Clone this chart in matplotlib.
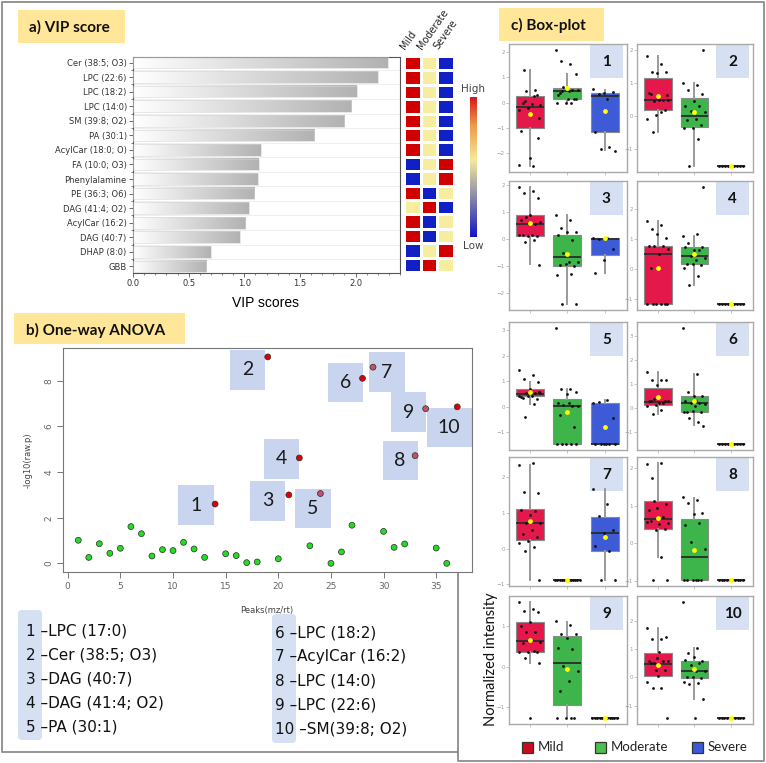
import numpy as np
import matplotlib
matplotlib.use('Agg')
import matplotlib.pyplot as plt
from matplotlib.patches import Rectangle, FancyBboxPatch
from matplotlib.colors import LinearSegmentedColormap, ListedColormap
from matplotlib.ticker import MultipleLocator

W, H = 766, 763

# ---------------- a) VIP score ----------------
vip_names = ['Cer (38:5; O3)', 'LPC (22:6)', 'LPC (18:2)', 'LPC (14:0)', 'SM (39:8; O2)',
             'PA (30:1)', 'AcylCar (18:0; O)', 'FA (10:0; O3)', 'Phenylalamine', 'PE (36:3; O6)',
             'DAG (41:4; O2)', 'AcylCar (16:2)', 'DAG (40:7)', 'DHAP (8:0)', 'GBB']
vip_scores = [2.29, 2.20, 2.01, 1.96, 1.90, 1.63, 1.15, 1.13, 1.12, 1.09, 1.04, 1.01, 0.96, 0.70, 0.66]
groups = ['Mild', 'Moderate', 'Severe']
# 0 = low, 1 = middle, 2 = high
vip_heat = [[2, 1, 0], [2, 1, 0], [2, 1, 0], [2, 1, 0], [2, 1, 0], [2, 1, 0], [2, 1, 0],
            [0, 1, 2], [0, 1, 2], [2, 0, 1], [1, 2, 0], [2, 0, 1], [2, 0, 1], [0, 1, 2], [0, 2, 1]]

# ---------------- b) One-way ANOVA ----------------
peaks = list(range(1, 38))
logp = [1.01, 0.26, 0.86, 0.44, 0.66, 1.61, 1.30, 0.32, 0.60, 0.56, 0.92, 0.63, 0.26, 2.60,
        0.42, 0.34, 0.03, 0.06, 9.05, 0.20, 3.00, 4.62, 0.77, 3.06, 0.00, 0.50, 1.67, 8.11,
        8.60, 1.40, 0.70, 0.85, 4.72, 6.78, 0.67, 0.00, 6.86]
peak_class = [0] * 13 + [1, 0, 0, 0, 0, 1, 0, 1, 1, 0, 2, 0, 0, 0, 1, 2, 0, 0, 0, 2, 2, 0, 0, 1]
label_peaks = [14, 19, 21, 22, 24, 28, 29, 33, 34, 37]
label_names = ['LPC (17:0)', 'Cer (38:5; O3)', 'DAG (40:7)', 'DAG (41:4; O2)', 'PA (30:1)',
               'LPC (18:2)', 'AcylCar (16:2)', 'LPC (14:0)', 'LPC (22:6)', 'SM(39:8; O2)']
# where each number box sits relative to its point (px right, px down)
label_offsets = [(-19, 1), (-20, 13), (-21.5, 6), (-17.5, 1), (-7.5, 15), (-17, 4),
                 (14, 5), (-15, 5), (-17, 3.5), (-8, 20.5)]

# ---------------- c) Box-plots ----------------
# box stats per panel: (whisker low, q1, median, q3, whisker high, mean)
mild_box = [(-2.50, -1.00, -0.16, 0.24, 1.29, -0.46), (-0.47, 0.19, 0.48, 1.16, 1.83, 0.62),
            (-0.94, 0.10, 0.54, 0.87, 1.92, 0.58), (-1.17, -1.17, 0.48, 0.77, 1.60, 0.04),
            (0.09, 0.42, 0.52, 0.68, 0.97, 0.57), (-0.26, 0.11, 0.26, 0.81, 1.47, 0.44),
            (-0.88, 0.24, 0.71, 1.10, 2.34, 0.78), (-0.36, 0.38, 0.64, 1.11, 2.14, 0.67),
            (0.08, 0.36, 0.64, 1.10, 1.61, 0.67), (0.04, 0.04, 0.48, 0.86, 1.73, 0.43)]
mod_box = [(-0.03, 0.14, 0.46, 0.57, 1.12, 0.58), (-1.51, -0.32, 0.01, 0.56, 0.99, 0.13),
           (-2.41, -0.99, -0.68, 0.16, 0.89, -0.55), (-0.54, 0.16, 0.43, 0.71, 1.10, 0.50),
           (-1.47, -1.47, 0.03, 0.32, 0.70, -0.21), (-0.72, -0.18, 0.18, 0.47, 1.40, 0.28),
           (-0.88, -0.88, -0.88, -0.88, -0.88, -0.88), (-0.99, -0.99, -0.37, 0.65, 1.21, -0.18),
           (-1.26, -0.95, 0.10, 0.76, 1.12, -0.06), (-0.75, -0.01, 0.23, 0.56, 1.03, 0.28)]
sev_box = [(-1.87, -1.15, 0.24, 0.37, 0.50, -0.32), (-1.52, -1.52, -1.52, -1.52, -1.52, -1.52),
           (-1.25, -0.58, -0.01, 0.04, 0.04, 0.03), (-1.17, -1.17, -1.17, -1.17, -1.17, -1.17),
           (-1.47, -1.47, -1.47, 0.13, 0.26, -0.81), (-1.51, -1.51, -1.51, -1.51, -1.51, -1.51),
           (-0.88, -0.07, 0.44, 0.89, 1.67, 0.33), (-0.99, -0.99, -0.99, -0.99, -0.99, -0.99),
           (-1.28, -1.28, -1.28, -1.28, -1.28, -1.28), (-1.44, -1.44, -1.44, -1.44, -1.44, -1.44)]

mild_pts = [
    [-2.47, -2.51, 1.29, -1.41, -2.18, -1.12, 0.50, 0.46, -0.10, -0.04, 0.00, 0.30, -0.22, -0.29, 0.24, 0.08, -0.59, -0.45],
    [1.83, 1.58, 1.33, 1.33, 1.30, 0.70, 0.48, 0.45, 0.48, 0.48, 0.68, 0.17, 0.03, -0.09, 0.12, -0.47, 0.63],
    [1.92, 1.75, 1.69, 1.52, 0.87, 0.70, 0.54, 0.80, 0.62, 0.16, 0.14, 0.10, 0.11, 0.14, -0.03, -0.11, -0.97],
    [1.60, 1.47, 1.33, 1.03, 1.14, 0.75, 0.77, 0.77, 0.66, 0.50, 0.02, -1.17, -1.17, -1.17, -1.17, -1.17, -1.17],
    [1.43, 1.26, 1.08, 0.99, 0.68, 0.39, 0.55, 0.55, 0.55, 0.44, 0.35, 0.31, 0.42, 0.42, 0.09, -0.39, 0.57],
    [1.50, 1.17, 1.17, 1.17, 0.94, 0.29, 0.20, 0.36, 0.29, 0.20, 0.29, 0.29, 0.11, 0.08, -0.08, -0.26],
    [2.34, 2.40, 1.58, 1.56, 0.95, 1.08, 1.06, 0.71, 0.71, 0.52, 0.40, 0.33, 0.21, 0.17, 0.04, -0.06, -0.88],
    [2.10, 2.14, 1.73, 1.05, 0.94, 0.87, 0.69, 1.12, 0.54, 0.51, 0.60, 0.37, 0.34, 0.56, -0.37, -0.99, -0.99],
    [1.61, 1.42, 1.39, 1.36, 1.12, 1.02, 0.85, 0.87, 0.62, 0.66, 0.58, 0.36, 0.36, 0.36, 0.38, 0.22, 0.10, -1.28],
    [1.73, 1.36, 1.36, 1.42, 0.67, 0.59, 0.59, 0.49, 0.59, 0.90, 0.49, 0.25, 0.25, -0.18, -0.36, -0.36, -1.44, 0.06]]
mod_pts = [
    [2.08, 1.51, 1.62, 1.12, 0.54, 0.28, 0.50, 0.63, 0.48, 0.44, 0.37, 0.13, -0.03, -0.03, -0.03, 0.46, 0.15, 0.14],
    [0.99, 0.94, 0.79, 0.68, 0.45, 0.32, 0.30, 0.15, 0.12, -0.08, -0.13, -0.28, -0.36, -0.36, -0.70, -1.51, 2.01],
    [0.89, 0.70, 0.39, 0.24, 0.26, 0.14, -0.05, -0.53, -0.84, -0.84, -0.97, -0.99, -0.93, -1.35, -1.28, -2.41, -2.41],
    [1.10, 1.14, 0.86, 0.72, 0.61, 0.71, 0.61, 0.43, 0.36, 0.28, 0.17, 0.13, 0.16, 0.02, -0.23, -0.54, 2.72],
    [3.10, 0.70, 0.70, 0.57, 0.52, 0.13, 0.03, 0.05, 0.03, 0.16, -0.31, -0.78, -1.47, -1.47, -1.47, -1.47, -1.47],
    [3.32, 1.40, 0.67, 0.50, 0.47, 0.29, 0.22, 0.18, 0.15, 0.29, -0.19, -0.19, -0.14, -0.19, -0.61, -0.42, -0.75, 0.08],
    [-0.88] * 12,
    [1.23, 1.14, 1.08, 0.80, 0.77, 0.49, 0.54, 0.03, -0.16, -0.99, -0.99, -0.99, -0.99, -0.99, -0.99],
    [1.13, 1.03, 0.82, 0.80, 0.70, 0.47, 0.43, 0.02, -0.10, -0.36, -0.60, -1.28, -1.28, -1.28, -1.28],
    [2.66, 1.03, 0.87, 0.56, 0.70, 0.60, 0.49, 0.43, 0.23, 0.23, 0.00, -0.02, 0.00, -0.15, -0.20, -0.24, -0.75, -1.44]]
sev_pts = [
    [0.53, 0.13, 0.34, 0.41, 0.37, -1.15, -1.74, -1.83, -1.91],
    [-1.52] * 9,
    [0.04, 0.04, 0.01, -0.39, -0.79, -1.25],
    [-1.17] * 9,
    [0.13, 0.26, 0.19, -0.43, -1.47, -1.47, -1.47, -1.47, -1.47, -1.47],
    [-1.51] * 9,
    [1.67, 1.26, 0.90, 0.52, 0.44, 0.07, -0.06, -0.88, -0.88],
    [-0.99] * 10,
    [-1.28] * 11,
    [-1.44] * 10]
group_colors = ['#E5184B', '#3DB54A', '#3D5BD6']

# ================= figure =================
fig = plt.figure(figsize=(W / 100, H / 100), dpi=100)


def px_rect(x0, y0, x1, y1):
    return [x0 / W, 1 - y1 / H, (x1 - x0) / W, (y1 - y0) / H]


deco = fig.add_axes([0, 0, 1, 1])
deco.set_xlim(0, W)
deco.set_ylim(H, 0)
deco.axis('off')

# panel frames
deco.plot([458, 2, 2, 764, 764, 458, 458], [752, 752, 2, 2, 761, 761, 572], color='#8c8c8c', lw=1.3)

title_kw = dict(fontsize=11, fontweight='bold', family='Lato', va='center', color='#111111')
deco.add_patch(Rectangle((18, 10), 107, 33, fc='#FFE699', ec='none'))
deco.text(29, 27, 'a) VIP score', **title_kw)
deco.add_patch(Rectangle((14, 313), 171, 31, fc='#FFE699', ec='none'))
deco.text(26, 330, 'b) One-way ANOVA', **title_kw)
deco.add_patch(Rectangle((499, 8), 105, 33, fc='#FFE699', ec='none'))
deco.text(511, 25, 'c) Box-plot', **title_kw)

# ---- a) VIP bars
ax_a = fig.add_axes(px_rect(133, 57, 400, 273))
n = len(vip_names)
ypos = np.arange(n)[::-1]
bar_cmap = LinearSegmentedColormap.from_list('bar', ['#FFFFFF', '#B2B2B2'])
grad = np.linspace(0, 1, 200)[None, :]
for yv, v in zip(ypos, vip_scores):
    ax_a.imshow(grad, extent=[0, v, yv - 0.4, yv + 0.4], cmap=bar_cmap, aspect='auto',
                interpolation='bilinear', zorder=2)
ax_a.barh(ypos, vip_scores, height=0.8, fc='none', ec='#d4d4d4', lw=0.4, zorder=3)
ax_a.set_xlim(0, 2.4)
ax_a.set_ylim(-0.45, n - 1 + 0.38)
ax_a.set_yticks(ypos)
ax_a.set_yticklabels(vip_names, fontsize=6, color='#333333')
ax_a.set_yticks(np.arange(n - 1) + 0.5, minor=True)
ax_a.set_xticks([0, 0.5, 1.0, 1.5, 2.0])
ax_a.set_xticklabels(['0.0', '0.5', '1.0', '1.5', '2.0'], fontsize=6, color='#333333')
ax_a.xaxis.set_minor_locator(MultipleLocator(0.1))
ax_a.grid(which='minor', axis='y', color='#ececec', lw=0.6, zorder=0)
ax_a.tick_params(length=3, width=0.6, color='#555555', pad=1.5)
ax_a.tick_params(which='minor', length=1.5, width=0.5, color='#555555')
for s in ax_a.spines.values():
    s.set_color('#555555')
    s.set_linewidth(0.8)
deco.text(266, 303, 'VIP scores', ha='center', va='center', fontsize=10, family='Liberation Sans')

# ---- heatmap
ax_h = fig.add_axes(px_rect(404, 56, 454, 272))
heat_cmap = ListedColormap(['#1020C4', '#F6EE9E', '#D00000'])
ax_h.pcolormesh(np.arange(4), np.arange(n + 1), np.array(vip_heat), cmap=heat_cmap,
                vmin=-0.5, vmax=2.5, edgecolors='white', linewidth=1.8)
ax_h.set_xlim(0, 3)
ax_h.set_ylim(n, 0)
ax_h.axis('off')
for j, g in enumerate(groups):
    ax_h.text(j + 0.15, -0.35, g, rotation=55, rotation_mode='anchor', ha='left', va='bottom',
              fontsize=7, color='#222222')

ax_c = fig.add_axes(px_rect(470, 97, 477, 237))
cb_cmap = LinearSegmentedColormap.from_list('cb', [(0, '#1414C8'), (0.3, '#9090A8'), (0.55, '#F3EB9A'),
                                                   (0.8, '#EE9A48'), (1, '#D41A1A')])
ax_c.imshow(np.linspace(0, 1, 200)[:, None], cmap=cb_cmap, aspect='auto', origin='lower')
ax_c.axis('off')
deco.text(473.5, 89, 'High', ha='center', va='center', fontsize=7.5, color='#444444')
deco.text(473.5, 246, 'Low', ha='center', va='center', fontsize=7.5, color='#444444')

# ---- b) ANOVA
ax_b = fig.add_axes(px_rect(63, 348, 472, 572))
cls_colors = ['#22DD22', '#E00000', '#C4506A']
ax_b.scatter(peaks, logp, s=18, c=[cls_colors[c] for c in peak_class], edgecolors='#2a2a2a',
             linewidths=0.5, zorder=4)
ax_b.set_xlim(-0.45, 38.4)
ax_b.set_ylim(-0.38, 9.44)
ax_b.set_xticks(range(0, 36, 5))
ax_b.set_yticks(range(0, 9, 2))
ax_b.tick_params(labelsize=6.5, labelcolor='#666666', color='#777777', length=4, width=0.7, pad=3)
for lab in ax_b.get_yticklabels():
    lab.set_rotation(90)
    lab.set_va('center')
for s in ax_b.spines.values():
    s.set_color('#777777')
    s.set_linewidth(0.8)
deco.text(28, 460, '-log10(raw.p)', rotation=90, ha='center', va='center', fontsize=6, color='#444444')
deco.text(267, 610, 'Peaks(mz/rt)', ha='center', va='center', fontsize=6, color='#444444')

for num, (pk, (dx, dy)) in enumerate(zip(label_peaks, label_offsets), start=1):
    val = logp[peaks.index(pk)]
    cx, cy = ax_b.transData.transform((pk, val))
    cx, cy = cx + dx, cy - dy
    bw = 45 if num >= 10 else 35.3
    (x0, y0), (x1, y1) = ax_b.transData.inverted().transform([(cx - bw / 2, cy - 19.7),
                                                              (cx + bw / 2, cy + 19.7)])
    ax_b.add_patch(Rectangle((x0, y0), x1 - x0, y1 - y0, fc='#C9D5EE', ec='none', zorder=2,
                             clip_on=False))
    tx, ty = ax_b.transData.inverted().transform((cx, cy))
    ax_b.text(tx, ty, str(num), ha='center', va='center', fontsize=14, family='Lato',
              color='#1a1a1a', zorder=3)

# legend list of labelled peaks
deco.add_patch(FancyBboxPatch((18, 610), 24, 130, boxstyle='round,pad=0,rounding_size=4',
                              fc='#D6E0F3', ec='none'))
deco.add_patch(FancyBboxPatch((272, 614), 24, 129, boxstyle='round,pad=0,rounding_size=4',
                              fc='#D6E0F3', ec='none'))
for i, name in enumerate(label_names):
    col, row = divmod(i, 5)
    x = 26 if col == 0 else 275
    y = 631 + row * 24 + col * 2
    deco.text(x, y, f'{i + 1} \u2013{name}', ha='left', va='center', fontsize=11,
              family='DejaVu Sans', color='#111111')

# ---- c) box plots
col_px = [(509, 627), (637, 753)]
row_px = [(44, 172), (181, 310), (322, 450), (457, 586), (596, 724)]
golden = 0.618034


def spread(k, flat):
    if flat:
        return np.linspace(-0.33, 0.33, k)
    return ((np.arange(k) * golden) % 1 - 0.5) * 0.62


for p in range(10):
    r, c = divmod(p, 2)
    ax = fig.add_axes(px_rect(col_px[c][0], row_px[r][0], col_px[c][1], row_px[r][1]))
    boxes = [mild_box[p], mod_box[p], sev_box[p]]
    pts = [mild_pts[p], mod_pts[p], sev_pts[p]]
    stats = [dict(whislo=b[0], q1=b[1], med=b[2], q3=b[3], whishi=b[4]) for b in boxes]
    bp = ax.bxp(stats, positions=[1, 2, 3], widths=0.75, patch_artist=True, showfliers=False,
                showcaps=False,
                boxprops=dict(edgecolor='#8a8a8a', linewidth=0.8),
                medianprops=dict(color='#2b2b2b', linewidth=1.3),
                whiskerprops=dict(color='#9a9a9a', linewidth=1.4))
    for patch, col in zip(bp['boxes'], group_colors):
        patch.set_facecolor(col)
    for g, (b, vals) in enumerate(zip(boxes, pts)):
        flat = b[1] == b[3] and b[0] == b[4]
        ax.scatter(g + 1 + spread(len(vals), flat), vals, s=4, color='#111111', zorder=4, lw=0)
        ax.scatter([g + 1], [b[5]], s=12, color='#FFFF00', zorder=5, lw=0)
    ax.set_xlim(0.43, 3.6)
    ax.margins(y=0.05)
    ax.yaxis.set_major_locator(MultipleLocator(1))
    ax.set_xticks([1, 2, 3])
    ax.set_xticklabels([])
    ax.tick_params(labelsize=4, labelcolor='#999999', color='#bbbbbb', length=2, width=0.6, pad=1)
    for s in ax.spines.values():
        s.set_color('#aaaaaa')
        s.set_linewidth(1.0)
    bw, bh = 33 / (col_px[c][1] - col_px[c][0]), 33 / (row_px[r][1] - row_px[r][0])
    ax.add_patch(Rectangle((1 - 0.035 - bw, 1 - 0.008 - bh), bw, bh, transform=ax.transAxes,
                           fc='#D6E0F2', ec='none', zorder=1))
    ax.text(1 - 0.035 - bw / 2, 1 - 0.008 - bh / 2, str(p + 1), transform=ax.transAxes,
            ha='center', va='center', fontsize=11, fontweight='bold', family='Lato',
            color='#111111', zorder=2)

deco.text(491, 659, 'Normalized intensity', rotation=90, ha='center', va='center', fontsize=10.5,
          family='Lato', color='#111111')

# legend
leg_x = [522, 595, 692]
for x, g, col in zip(leg_x, groups, ['#CC0A1E', '#4CBF4C', '#3A5AD8']):
    deco.add_patch(Rectangle((x, 741.5), 11, 11, fc=col, ec='#333333', lw=0.9))
    deco.text(x + 16, 747, g, ha='left', va='center', fontsize=9.5, family='Lato', color='#222222')

fig.savefig('out.png', dpi=100)
